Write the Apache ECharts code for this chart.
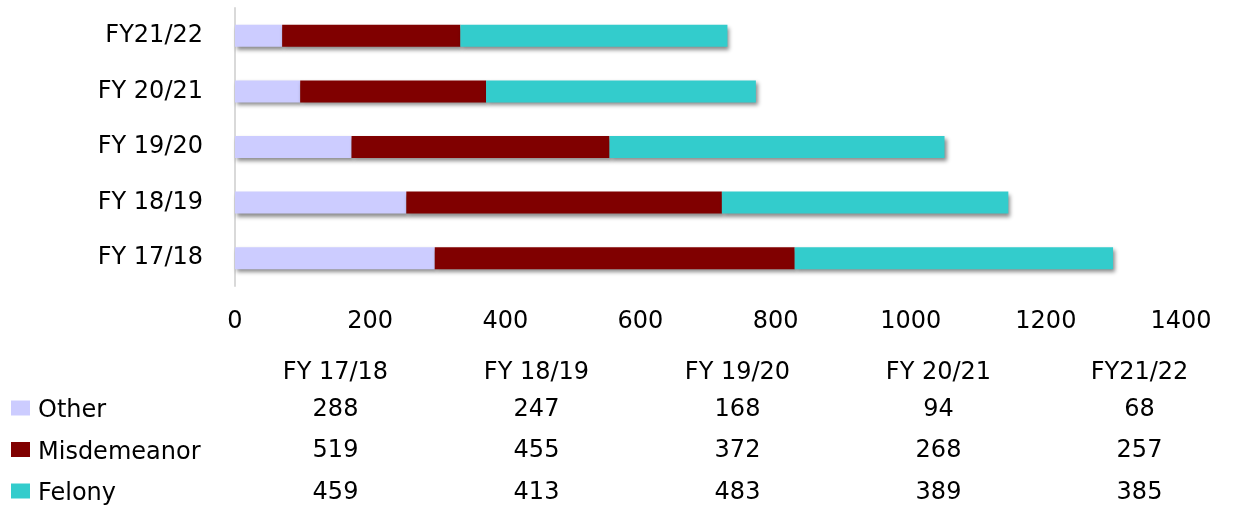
<!DOCTYPE html>
<html>
<head>
<meta charset="utf-8">
<script src="https://cdn.jsdelivr.net/npm/echarts@6/dist/echarts.min.js"></script>
<style>
  html, body { margin: 0; padding: 0; background: #fff; }
  #chart { width: 1250px; height: 506px; }
</style>
</head>
<body>
<div id="chart"></div>
<script>
// fiscal years, bottom to top on the bar chart, left to right in the table
const years = ['FY 17/18', 'FY 18/19', 'FY 19/20', 'FY 20/21', 'FY21/22']
const other = [288, 247, 168, 94, 68]
const misdemeanor = [519, 455, 372, 268, 257]
const felony = [459, 413, 483, 389, 385]
const xTicks = { min: 0, max: 1400, step: 200 }

const FONT = 'DejaVu Sans'
const FS = 24
const colors = { Other: '#ccccff', Misdemeanor: '#800000', Felony: '#33cccc' }

const chart = echarts.init(document.getElementById('chart'))

function barSeries(name, data) {
  return {
    name: name,
    type: 'bar',
    stack: 'total',
    xAxisIndex: 0,
    yAxisIndex: 0,
    barWidth: 22,
    data: data,
    itemStyle: {
      color: colors[name],
      shadowColor: 'rgba(0,0,0,0.45)',
      shadowBlur: 4,
      shadowOffsetX: 2,
      shadowOffsetY: 3
    }
  }
}

// one category axis per table row, stacked below the chart with offsets
function tableRow(values, offset) {
  return {
    type: 'category',
    gridIndex: 1,
    position: 'bottom',
    offset: offset,
    data: values.map(String),
    axisLine: { show: false },
    axisTick: { show: false },
    axisLabel: { interval: 0, margin: 11, fontFamily: FONT, fontSize: FS, color: '#000' }
  }
}

let option = {
  animation: false,
  backgroundColor: '#fff',
  grid: [
    { left: 235, width: 971, top: 8, height: 278 },   // bars
    { left: 235, width: 1005, top: 340, height: 10 }, // data table
    { left: 235, width: 946, top: 8, height: 278 }    // value labels
  ],
  legend: {
    orient: 'vertical',
    left: 11,
    top: 393,
    padding: 0,
    icon: 'rect',
    itemWidth: 19,
    itemHeight: 15,
    itemGap: 11.5,
    selectedMode: false,
    formatter: '{t|{name}}',
    textStyle: {
      fontFamily: FONT, fontSize: FS, color: '#000',
      rich: { t: { fontFamily: FONT, fontSize: FS, color: '#000', lineHeight: 24, padding: [6, 0, 0, 3] } }
    },
    data: ['Other', 'Misdemeanor', 'Felony']
  },
  xAxis: [
    {
      type: 'value',
      gridIndex: 0,
      min: xTicks.min,
      max: xTicks.max,
      interval: xTicks.step,
      axisLine: { show: false },
      axisTick: { show: false },
      axisLabel: { show: false },
      splitLine: { show: false }
    },
    tableRow(years, 0),
    tableRow(other, 37),
    tableRow(misdemeanor, 78),
    tableRow(felony, 120),
    {
      type: 'value',
      gridIndex: 2,
      min: xTicks.min,
      max: xTicks.max,
      interval: xTicks.step,
      axisLine: { show: false },
      axisTick: { show: false },
      splitLine: { show: false },
      axisLabel: { margin: 24, fontFamily: FONT, fontSize: FS, color: '#000', formatter: v => String(v) }
    }
  ],
  yAxis: [
    {
      type: 'category',
      gridIndex: 0,
      data: years,
      axisLine: { lineStyle: { color: '#d9d9d9', width: 2 } },
      axisTick: { show: false },
      axisLabel: { margin: 32, fontFamily: FONT, fontSize: FS, color: '#000' }
    },
    { type: 'value', gridIndex: 1, show: false },
    { type: 'value', gridIndex: 2, show: false }
  ],
  series: [
    barSeries('Other', other),
    barSeries('Misdemeanor', misdemeanor),
    barSeries('Felony', felony)
  ]
}

chart.setOption(option)
</script>
</body>
</html>
